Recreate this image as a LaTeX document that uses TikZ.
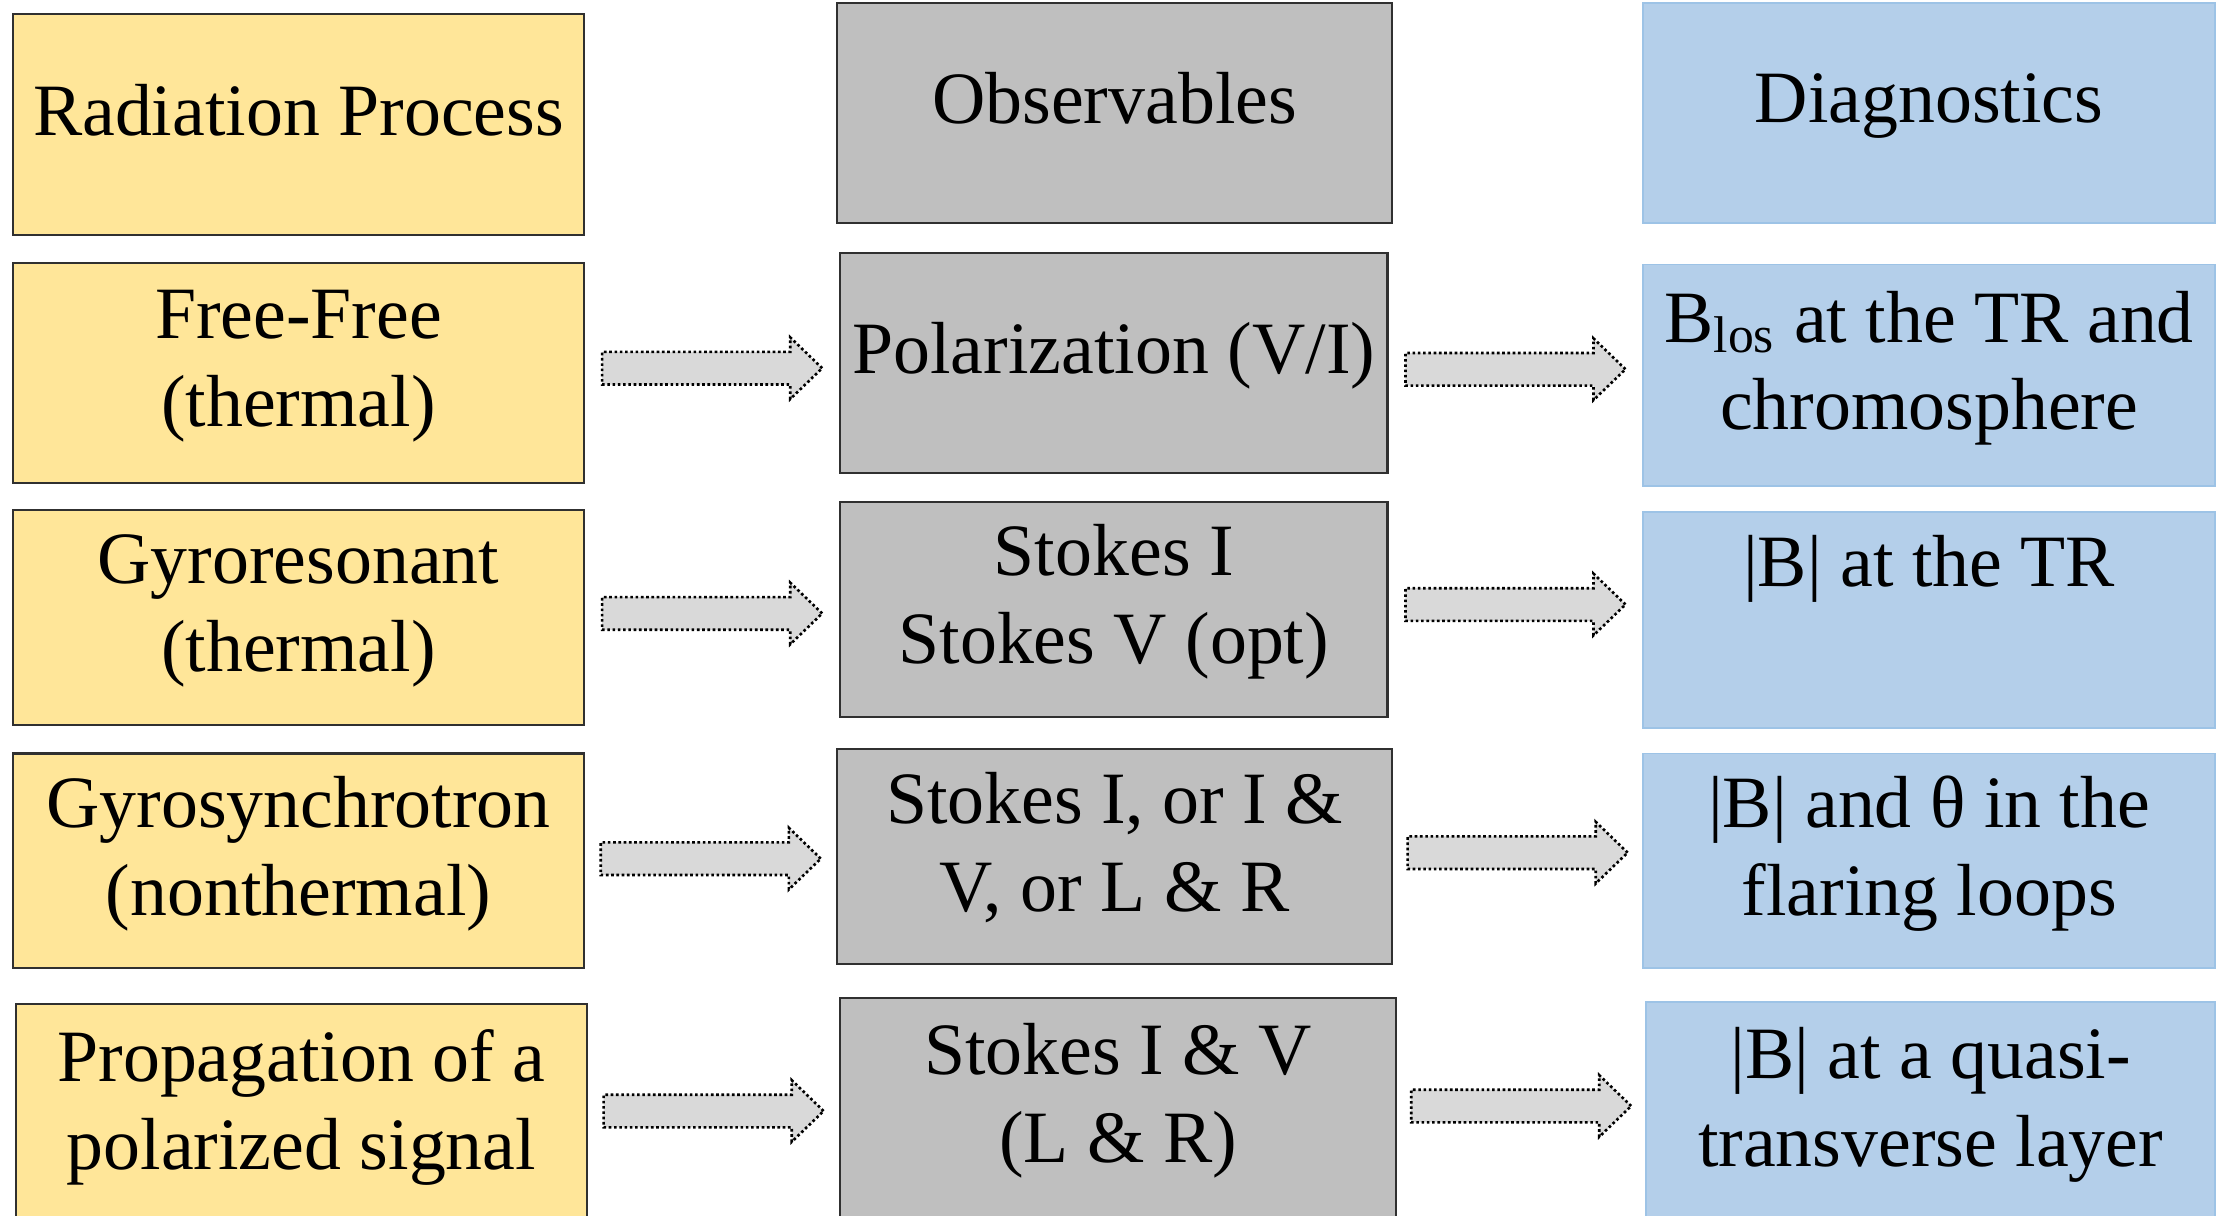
\documentclass[tikz,border=0pt]{standalone}
\usepackage{fontspec}
\setmainfont{Liberation Serif}
\usetikzlibrary{shapes.arrows,calc}

\definecolor{procyellow}{HTML}{FFE699}
\definecolor{obsgray}{HTML}{BFBFBF}
\definecolor{diagblue}{HTML}{B4CFEA}
\definecolor{diagline}{HTML}{9DC3E6}
\definecolor{boxline}{HTML}{303030}
\definecolor{flowgray}{HTML}{D9D9D9}

\begin{document}
\begin{tikzpicture}[
  font=\fontsize{21}{25}\selectfont,
  every node/.style={align=center, inner sep=0pt},
  cell/.style={text depth=8.5pt, minimum height=2.203cm},
  proc/.style={cell, draw=boxline, line width=0.6pt, fill=procyellow, minimum width=5.715cm},
  obs/.style={cell, draw=boxline, line width=0.6pt, fill=obsgray},
  diag/.style={cell, draw=diagline, line width=0.5pt, fill=diagblue, minimum width=5.715cm},
  flow/.style={single arrow, draw=black, fill=flowgray, line width=0.75pt, dash pattern=on 0.75pt off 0.75pt,
    inner xsep=0pt, inner ysep=0.15cm, minimum height=2.2cm, single arrow head extend=0.145cm,
    single arrow tip angle=88, single arrow head indent=0pt}
]
\useasboundingbox (0,0) rectangle (22.29,-12.15);

\node[proc] (rp) at (2.985,-1.244) {Radiation Process};
\node[obs, minimum width=5.544cm] (ob) at (11.146,-1.130) {Observables};
\node[diag] (dg) at (19.291,-1.130) {Diagnostics};

\node[proc] (ff) at (2.985,-3.732) {Free-Free\\(thermal)};
\node[obs, minimum width=5.473cm] (pol) at (11.138,-3.632) {Polarization (V/I)};
\node[diag, minimum height=2.218cm] (blos) at (19.291,-3.753) {B\textsubscript{los} at the TR and\\chromosphere};

\node[proc, minimum height=2.147cm] (gr) at (2.985,-6.177) {Gyroresonant\\(thermal)};
\node[obs, minimum width=5.473cm, minimum height=2.147cm] (sv) at (11.138,-6.092) {Stokes I\\Stokes V (opt)};
\node[diag, minimum height=2.161cm] (btr) at (19.291,-6.198) {|B| at the TR\\\mbox{}};

\node[proc, minimum height=2.147cm] (gs) at (2.985,-8.608) {Gyrosynchrotron\\(nonthermal)};
\node[obs, minimum width=5.544cm, minimum height=2.147cm] (siv) at (11.146,-8.565) {Stokes I, or I \&\\V, or L \& R};
\node[diag, minimum height=2.147cm] (bth) at (19.291,-8.608) {|B| and θ in the\\flaring loops};

\node[proc] (prop) at (3.014,-11.14) {Propagation of a\\polarized signal};
\node[obs, minimum width=5.558cm] (slr) at (11.181,-11.08) {Stokes I \& V\\(L \& R)};
\node[diag, minimum width=5.687cm] (bqt) at (19.306,-11.12) {|B| at a quasi-\\transverse layer};

\node[flow] (f1) at ($(ff.east)!.5!(pol.west)+(-0.085,0)$) {};
\node[flow] (g1) at ($(pol.east)!.5!(blos.west)+(-0.085,0)$) {};
\node[flow] (f2) at ($(gr.east)!.5!(sv.west)+(-0.085,0)$) {};
\node[flow] (g2) at ($(sv.east)!.5!(btr.west)+(-0.085,0.1)$) {};
\node[flow] (f3) at ($(gs.east)!.5!(siv.west)+(-0.085,0)$) {};
\node[flow] (g3) at ($(siv.east)!.5!(bth.west)+(-0.085,0.06)$) {};
\node[flow] (f4) at ($(prop.east)!.5!(slr.west)+(-0.085,0)$) {};
\node[flow] (g4) at ($(slr.east)!.5!(bqt.west)+(-0.085,0.04)$) {};

\end{tikzpicture}
\end{document}
